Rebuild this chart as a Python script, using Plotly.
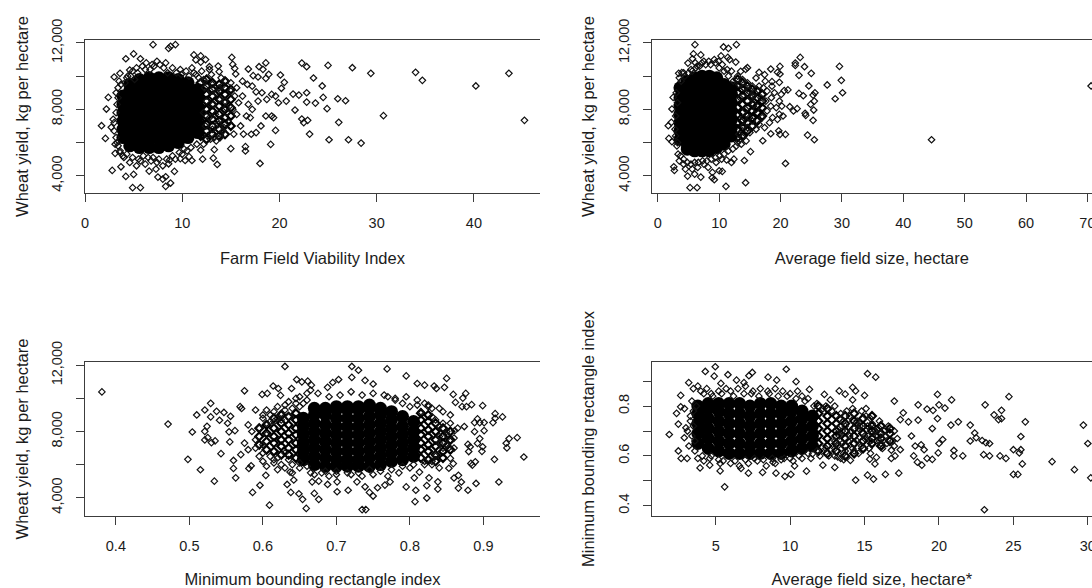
import plotly.graph_objects as go

# ---------- tick labels ----------
yield_ticks = [4000, 6000, 8000, 10000, 12000]
yield_ticktext = ["4,000", "", "8,000", "", "12,000"]
mbr_ticks = [0.4, 0.5, 0.6, 0.7, 0.8, 0.9]
mbr_ticktext = ["0.4", "", "0.6", "", "0.8", ""]

# ---------- panel 1: viability index vs yield (readable points) ----------
p1_x = [1.7,2.1,2.4,2.2,2.8,3.0,2.7,3.6,4.2,5.0,5.7,4.6,7.0,8.6,8.8,9.3,11.2,11.9,11.4,12.4,11.9,15.1,15.2,15.4,13.7,13.8,12.8,16.8,15.5,18.6,17.9,18.3,18.9,17.3,17.8,18.6,20.1,20.5,20.2,22.3,22.8,25.0,27.5,29.4,23.5,24.4,22.8,22.0,21.4,24.5,26.0,26.8,23.7,22.8,24.9,21.6,20.7,30.7,26.1,22.9,22.3,22.5,23.1,25.1,27.1,28.4,34.0,34.7,40.2,43.6,45.2,19.6,19.1,18.0,16.5,16.5,16.3,15.3,15.0,13.6,13.3,13.2,12.1,11.0,10.7,9.8,10.3,11.9,4.9,5.7,8.3,8.8,4.2,5.0,7.5,8.0,8.3,9.2,6.6,7.3,8.6,3.7,3.1,
6.2,6.9,7.4,8.3,9.0,9.8,10.4,11.0,12.0,12.8,5.3,4.3,3.7,3.5,3.2,3.4,13.0,14.0,14.5,15,15.6,16.2,16.7,17.2,17.6,18.2,18.7,19.2,19.6,19.9,18.6,19.2,19.4,18.1,17.6,17.1,17.0,16.6,16.0,15.6,15.2,15.8,16.2,16.8,17.2,17.8,14.8,14.2,13.9,13.5,12.9,12.2,11.5,10.9,15.4,15.0,14.4,13.8,13.1,12.2,11.4,3.2,3.0,2.9,3.1,3.6,4.0,4.6,5.3,5.7,6.2,6.8,7.4,8.0,8.7,9.3,10,10.5,
12.3,12.9,13.5,14.1,12.5,13.2,13.9,14.5,12.2,12.8,13.4,14.0,14.6,12.4,13.1,13.7,14.3,12.6,13.3,13.9,
4.4,4.9,5.4,5.9,6.3,6.7,7.1,7.7,8.1,8.5,9.4,9.9,10.7,11.2,11.7,12.3,4.1,4.7,5.1,3.4,3.3,3.2,3.0,3.3,3.4,3.6,3.9,4.3,4.9,5.5,6,6.5,7,7.6,8.4,9,9.7,10.2]
p1_y = [7015,6250,8720,8020,4320,9950,6920,10170,11050,11340,11050,10370,11900,11680,11800,11900,11280,11220,10980,11000,10850,11130,10710,10470,10610,10270,10570,10430,10130,10800,10570,10410,10110,10030,9950,9870,10070,9630,9270,10790,10570,10650,10510,10170,9890,9410,9000,8860,8920,8720,8640,8520,8380,8440,8040,7960,8500,7620,7220,7340,7420,7200,6510,6170,6170,5970,10230,9750,9410,10170,7340,6730,5890,4740,5750,5490,6510,6510,5630,4680,5570,5060,5000,4920,5150,5030,4920,5550,3280,3280,3360,3560,3960,4080,3920,3800,3940,4260,4280,4400,4720,4540,5350,
10400,10700,10900,10800,10500,10400,10300,10500,10300,10400,10500,9900,9500,9700,9000,8700,10100,9900,9700,9600,9300,9700,9500,9400,9050,9000,8600,8900,8800,8400,7600,7600,7500,7000,6600,6500,7500,7600,7000,7700,8000,8400,8800,8300,8000,8500,7200,6700,6300,6100,6200,5900,5900,5700,8800,9100,8500,9300,9500,9800,10100,6300,6700,7400,5900,5400,5100,4800,4600,4900,4700,4900,4800,4600,4950,5000,5300,5500,
9300,9100,9000,9400,8500,8300,8600,8100,7800,7500,7700,7400,7800,7000,6800,7100,6900,6400,6300,6500,
10000,10300,10200,10600,10800,10400,10600,10700,10500,10200,10200,10100,10000,10200,9900,9700,9600,10000,9800,9300,8300,7800,7200,6000,5800,5500,5200,5300,5100,5000,5200,5100,5100,5000,5000,5200,5400,5600]
p1_mesh_x = [11.9,11.9,11.9,11.9,11.9,11.9,11.9,11.9,12.5,12.5,12.5,12.5,12.5,12.5,12.5,12.5,12.5,13.1,13.1,13.1,13.1,13.1,13.1,13.1,13.1,13.8,13.8,13.8,13.8,13.8,13.8,13.8,13.8,14.4,14.4,14.4,14.4,14.4,14.4,14.4,14.4,15.0,15.0,15.0,15.0,15.0]
p1_mesh_y = [6400,6900,7300,7800,8200,8700,9100,9600,6200,6700,7100,7600,8000,8500,8900,9400,9800,6500,7000,7400,7900,8300,8800,9200,9600,6400,6800,7300,7700,8200,8600,9100,9500,6500,7100,7500,8000,8400,8900,9300,9700,7000,7600,8100,8600,9200]
# overplotted solid core, estimated
p1_core_x = [3.9,3.9,3.9,3.9,3.9,3.9,4.6,4.6,4.6,4.6,4.6,4.6,4.6,4.6,4.6,5.6,5.6,5.6,5.6,5.6,5.6,5.6,5.6,5.6,5.6,6.6,6.6,6.6,6.6,6.6,6.6,6.6,6.6,6.6,6.6,7.6,7.6,7.6,7.6,7.6,7.6,7.6,7.6,7.6,7.6,8.6,8.6,8.6,8.6,8.6,8.6,8.6,8.6,8.6,8.6,9.6,9.6,9.6,9.6,9.6,9.6,9.6,9.6,9.6,10.6,10.6,10.6,10.6,10.6,10.6,10.6,10.6,11.6,11.6,11.6,11.6,11.6,11.6]
p1_core_y = [6300,6800,7300,7800,8300,8800,5800,6200,6700,7200,7700,8200,8700,9100,9500,5700,6100,6600,7000,7500,8000,8500,8900,9400,9800,5700,6200,6700,7200,7700,8200,8700,9100,9500,9900,5700,6200,6700,7200,7700,8200,8700,9100,9500,9900,5800,6300,6800,7300,7800,8300,8800,9200,9600,9900,6000,6500,7000,7500,8000,8500,9000,9400,9800,6300,6800,7300,7800,8300,8800,9200,9600,6600,7100,7600,8100,8600,9200]

# ---------- panel 2: average field size vs yield ----------
p2_x = [6.05,10.7,11.5,12.8,5.8,7.0,5.65,4.9,6.1,11.4,10.3,11.7,12.7,14.6,14.3,13.5,16.5,17.4,16,18.4,19.9,19.5,19.9,23.2,22.4,22.4,23.9,25,23,29.6,29.9,27.6,24.6,30.1,28.9,25.6,25.3,23,23.7,25.5,24.9,25.4,25.3,24,24.1,22.7,21.5,22.1,24.4,25.5,44.6,70.6,20.8,19.7,19.9,18.4,17.1,20.8,14.1,15.1,14.3,11.1,5.25,6.4,4.85,7,8.85,9.2,10.5,10,2.7,2.6,1.7,2.2,1.8,2.3,2.3,2.5,3.4,3.9,21.2,20.6,19.8,18.6,
3,3.2,2.9,2.8,2.9,3.1,3.3,3.5,4.2,4.5,5.6,6,6.5,7.5,8.2,8.9,9.5,10.4,11.2,12,12.4,3.5,4.2,5.4,6.4,7.5,8.3,9.2,9.9,10.5,11.3,12,13,13.8,14.6,15.4,15.8,16.5,17.2,17.8,16.8,17.6,18.5,19,18.4,17.8,17,16.5,16,15,14.4,13.6,12.8,14.9,16,15.6,19.3,19.8,18.7,19.5,20.2,18.2,17.4,20.4,19.8,20.1,18.6,17.5,14.7,14,14,13.2,15.2,13.4,14.3,14,
3.8,4.4,5,5.6,6.2,6.8,7.2,7.8,8.6,9.4,10,10.8,11.5,12.3,13.2,14,14.8,15.5,3.2,3.7,4.2,4.8,5.4,6,6.6,7.3,8,8.7,9.4,10.1,10.8,11.5,12.2,13,13.8,14.6,15.4]
p2_y = [11900,11760,11680,11900,11340,11280,11050,10790,10810,11130,11220,11000,10850,10510,10410,10290,10230,10090,9890,10430,10590,10230,10130,11130,10790,10650,10570,10170,10050,10590,9750,9470,9410,9000,8640,9000,8860,8960,8820,8500,8300,7960,7340,7760,7640,8040,8160,7900,6450,6170,6170,9410,6490,6710,6490,6530,6110,4740,4920,5450,3580,3360,3280,3280,3980,3920,3880,3760,4260,4300,4320,4540,7015,7220,6250,6050,8020,8720,10170,10210,9170,9130,9630,9670,
9000,8400,7600,6800,6400,5800,5300,4900,4700,4400,4400,4100,4500,4700,4500,4200,4800,5000,4950,4800,5000,9900,10200,10400,10600,10900,10900,11000,10900,10700,10400,10300,10000,9800,9600,9400,9000,9400,9300,9100,8700,8500,8700,9000,8200,7900,7500,7100,6800,6600,6100,5900,5800,7500,8000,8300,8100,7700,7500,7400,8200,7200,6900,7600,8500,8900,9400,9700,8900,9300,7000,6500,8700,8700,8000,7500,
9700,10000,10200,10300,10500,10600,10800,10700,10700,10800,10500,10300,10000,9700,9500,9300,9100,8800,6000,5200,5000,4800,4700,4800,4800,4900,4900,5000,5100,5200,5300,5500,5600,6000,6300,6900,7300]
p2_mesh_x = [13,13,13,13,13,13,13,13,13,13.8,13.8,13.8,13.8,13.8,13.8,13.8,13.8,14.6,14.6,14.6,14.6,14.6,14.6,14.6,15.4,15.4,15.4,15.4,15.4,15.4,16.2,16.2,16.2,16.2,16.2,17,17,17,17]
p2_mesh_y = [6300,6800,7200,7700,8100,8600,9000,9400,9800,6400,6900,7300,7800,8300,8800,9200,9600,6700,7200,7600,8100,8500,9000,9400,7000,7500,7900,8300,8800,9200,7300,7800,8200,8700,9100,7600,8100,8500,8900]
p2_core_x = [3.6,3.6,3.6,3.6,3.6,3.6,3.6,4.8,4.8,4.8,4.8,4.8,4.8,4.8,4.8,4.8,4.8,6,6,6,6,6,6,6,6,6,6,6,7.2,7.2,7.2,7.2,7.2,7.2,7.2,7.2,7.2,7.2,7.2,8.4,8.4,8.4,8.4,8.4,8.4,8.4,8.4,8.4,8.4,8.4,9.6,9.6,9.6,9.6,9.6,9.6,9.6,9.6,9.6,9.6,10.8,10.8,10.8,10.8,10.8,10.8,10.8,10.8,12,12,12,12,12,12,12]
p2_core_y = [6200,6700,7200,7700,8200,8700,9300,5600,5900,6400,6900,7400,7900,8400,8900,9400,9700,5500,5700,6200,6700,7200,7700,8200,8700,9200,9700,9900,5500,5700,6200,6700,7200,7700,8200,8700,9200,9700,10000,5500,5800,6300,6800,7300,7800,8300,8800,9300,9800,10000,5700,6000,6500,7000,7500,8000,8500,9000,9500,9900,5900,6400,6900,7400,7900,8400,8900,9500,6400,6900,7400,7900,8400,8900,9300]

# ---------- panel 3: minimum bounding rectangle index vs yield ----------
p3_x = [.381,.471,.498,.504,.510,.515,.521,.524,.521,.521,.525,.529,.529,.530,.535,.534,.537,.541,.543,.547,.552,.556,.555,.554,.562,.560,.560,.563,.575,.569,.571,.586,.581,.584,.596,.609,.604,.599,.606,.614,.621,.630,.633,.638,.642,.637,.624,.639,.646,.653,.661,.666,.649,.654,.659,.667,.670,.676,.676,.688,.695,.703,.688,.721,.730,.721,.739,.750,.769,.795,.810,.820,.833,.836,.850,.847,.859,.876,.872,.862,.871,.877,.884,.899,.916,.926,.913,.916,.892,.888,.895,.901,.901,.888,.874,.861,.946,.935,.931,.932,.955,.915,.921,.899,.892,.898,.879,.880,.882,.895,.883,.889,.885,.890,.879,.870,.866,.866,.860,.853,.859,.855,.853,.838,.838,.823,.807,.808,.823,.826,.806,.813,.795,.735,.740,.739,.745,.750,.756,.716,.701,.701,.728,.766,.773,
.585,.59,.595,.60,.59,.61,.615,.62,.63,.625,.63,.645,.65,.66,.675,.69,.705,.72,.735,.75,.765,.78,.795,.81,.825,.84,.855,.845,.85,.84,.835,.83,.84,.82,.80,.785,.77,.75,.735,.72,.70,.685,.665,.65,.64,.605,.575,.57,.58,.58,.60,.865,.855,.845,.83,.815,.635,.625,.615,.605,.60,.62,.635,
.59,.595,.60,.605,.61,.615,.62,.625,.63,.635,.64,.645,.65,.655,.66,.665,.60,.605,.61,.615,.62,.63,.64,.65,.66,.67,.68,.69,.70,.715,.73,.745,.76,.775,.79,.805,.82,.835,.85,.86,.855,.845,.84,.835,.83,.825,.82,.81,.80,.79,.78,.77,.85,.84,.86,.83]
p3_y = [10390,8450,6320,7970,9000,5690,9300,8310,8010,7490,7630,9700,8880,7330,7430,5000,9220,8680,6660,9150,8500,8920,7370,7980,8050,6250,5770,5200,10460,9500,9390,4320,5770,5930,4750,3550,5350,10240,10300,10750,10600,11930,4800,4320,5070,5550,10180,10600,11140,11000,11040,10800,4240,3900,3350,4960,4260,3900,5000,4800,10960,11140,10670,11930,11700,11270,11090,10870,11780,11360,10900,10800,10750,10600,11210,10670,10240,10300,10020,9760,9500,9500,9620,9560,9080,8880,8540,8800,8760,8540,8540,8540,8050,7990,8300,8050,7630,7570,7290,7010,6460,6320,4950,7080,7280,6800,7220,6790,7080,7570,6070,6170,5970,4860,4450,4950,4580,5350,5190,5780,6060,6380,7020,4960,4520,3980,3760,4450,4730,5200,5200,5550,4650,3280,3280,4660,4320,4100,4600,4450,4360,4960,4960,4760,4960,
8000,7000,6500,8800,9300,9000,6300,9500,9300,6000,5800,9700,10100,9900,10300,10100,10200,10400,10200,10300,10200,10000,10100,9900,9600,9400,9000,8500,7800,7300,6500,6200,5800,6000,5800,5500,5300,5400,5300,5400,5400,5600,5500,5800,6000,7800,7300,6600,6900,8400,7200,8200,7400,7000,8900,9200,8900,8700,8600,8500,6700,6400,6300,
7500,8200,9000,9300,8600,9200,8800,9100,9600,9800,9400,10000,9500,9700,10300,10500,6200,5900,6500,6100,5700,6700,5500,6100,5900,5400,5500,5300,5600,5500,5500,5700,5600,5700,5900,6000,6200,6600,7200,7600,8500,9200,8300,8700,9400,9500,9700,9600,9500,9700,9900,10100,8000,7700,7000,6000]
p3_mesh_x = [.595,.595,.595,.605,.605,.605,.605,.615,.615,.615,.615,.615,.625,.625,.625,.625,.625,.625,.635,.635,.635,.635,.635,.635,.645,.645,.645,.645,.645,.645,.645,.815,.815,.815,.815,.815,.815,.815,.825,.825,.825,.825,.825,.825,.825,.835,.835,.835,.835,.835,.835,.845,.845,.845,.845,.845,.855,.855,.855]
p3_mesh_y = [7200,7700,8200,6900,7400,7900,8400,6800,7300,7700,8200,8800,6600,7100,7500,8000,8500,9000,6600,7000,7500,7900,8400,8900,6400,6900,7300,7800,8200,8700,9100,6400,6900,7300,7800,8200,8700,9100,6300,6800,7200,7700,8100,8600,9000,6200,6600,7100,7500,8000,8500,6400,6800,7300,7700,8200,6900,7500,8000]
p3_core_x = [.655,.655,.655,.655,.655,.655,.67,.67,.67,.67,.67,.67,.67,.67,.685,.685,.685,.685,.685,.685,.685,.685,.70,.70,.70,.70,.70,.70,.70,.70,.70,.715,.715,.715,.715,.715,.715,.715,.715,.715,.73,.73,.73,.73,.73,.73,.73,.73,.73,.745,.745,.745,.745,.745,.745,.745,.745,.745,.76,.76,.76,.76,.76,.76,.76,.76,.775,.775,.775,.775,.775,.775,.775,.79,.79,.79,.79,.79,.79,.805,.805,.805,.805,.805]
p3_core_y = [6300,6800,7300,7800,8300,8800,6000,6500,7000,7500,8000,8500,9000,9400,5900,6400,6900,7400,7900,8400,9000,9400,5900,6300,6800,7300,7800,8300,8800,9300,9500,5900,6300,6800,7300,7800,8300,8800,9300,9500,5900,6300,6800,7300,7800,8300,8800,9300,9500,5900,6400,6900,7400,7900,8400,8900,9400,9600,6000,6500,7000,7500,8000,8500,9000,9400,6200,6700,7200,7700,8200,8700,9200,6300,6800,7300,7800,8300,8900,6500,7000,7500,8000,8600]

# ---------- panel 4: field size vs minimum bounding rectangle index ----------
p4_x = [1.88,2.49,2.68,3.08,2.65,2.65,2.37,2.49,2.89,3.0,3.19,4.3,4.97,4.9,5.82,5.35,6.4,6.9,7.46,7.23,8.52,9.1,9.74,10.4,11.3,12.3,12.7,13.3,13.7,14.2,14.4,14.2,15,15.2,15.75,17,18.6,19.2,19.6,19.9,20,20.4,20.85,17.6,17.95,17.4,18.6,21.3,20.8,22.1,22.4,22.5,22.1,22.9,23.1,24.7,24.2,23.7,24,24.2,25.8,25.5,25,25.5,25.4,24.5,24.1,23.4,23,23.4,23.15,25.6,25,25.3,27.6,29.1,30.2,29.7,30,23.05,21,21,21.6,19.55,19.9,19.55,18.85,18.55,18.3,19,18.8,18.4,18.15,20,20.25,19.95,19.2,17.3,16.4,15.6,15.2,14.4,15.7,15.35,15.8,17.4,17.05,16.8,16.8,5.6,5.3,5.3,7.2,8.15,9.05,9.65,10.05,11.1,13,12.2,3.95,4.6,6.7,8.85,10.3,11.5,14.05,13.6,13.2,
3.5,3.8,4,4.4,4.7,5.2,5.7,6,6.5,7,7.5,8,8.5,9,9.5,10,10.5,10.8,11.2,11.8,12.4,13,13.3,13.6,14,14.4,14.8,15.1,15.4,15.7,16,16.3,16.6,17,13.5,14,14.5,15,15.5,16,16.5,17,13.2,13.7,14.2,14.6,15.3,16.2,13,13.2,14.6,15.2,3.1,3.3,3.2,3.6,3.8,4.2,4.7,5.2,6,6.6,7.2,7.8,8.4,9,9.6,10.2,10.8,11.4,12,12.6,13,13.4,2.9,3.4,16.4,16.9,17.2,
4.2,4.8,5.4,6.2,6.9,7.4,7.9,8.6,9.2,9.8,10.4,11.0,11.6,12.2,12.8,13.4,13.8,14.2,14.7,15.1,15.5,16,13.3,13.7,14.1,14.5,15,15.4,15.9,13.5,13.9,14.3,14.8,15.4,16.1,3.3,3.5,3.4,3.6,3.5,3.7,4.1,4.6,5.5,6.3,7,7.6,8.2,8.8,9.4,10,10.6,11.2,11.8,12.4,13,13.6]
p4_y = [.686,.62,.59,.59,.843,.797,.771,.728,.673,.713,.894,.939,.958,.92,.926,.891,.904,.894,.935,.922,.916,.904,.948,.898,.867,.847,.825,.861,.848,.875,.861,.825,.843,.93,.916,.82,.805,.788,.783,.847,.805,.792,.825,.773,.737,.746,.744,.737,.724,.724,.692,.673,.66,.662,.805,.838,.783,.765,.746,.75,.737,.678,.625,.625,.612,.59,.6,.6,.605,.65,.653,.568,.526,.526,.577,.545,.512,.724,.65,.384,.622,.6,.6,.71,.75,.586,.563,.575,.6,.625,.645,.64,.68,.65,.666,.612,.59,.531,.526,.507,.523,.503,.568,.587,.594,.625,.6,.59,.623,.476,.54,.57,.531,.534,.531,.518,.526,.539,.554,.563,.552,.563,.55,.575,.56,.608,.582,.585,.596,
.87,.88,.86,.87,.85,.86,.87,.86,.87,.88,.86,.87,.86,.87,.86,.85,.86,.84,.83,.81,.80,.80,.75,.74,.76,.73,.78,.79,.75,.70,.74,.70,.72,.70,.70,.68,.66,.68,.69,.66,.65,.64,.64,.62,.63,.61,.63,.63,.66,.71,.71,.72,.70,.76,.64,.62,.59,.58,.60,.585,.57,.56,.57,.58,.56,.57,.59,.58,.59,.59,.60,.60,.60,.59,.79,.82,.68,.66,.67,
.85,.84,.85,.84,.85,.85,.84,.85,.84,.84,.83,.82,.80,.79,.78,.77,.78,.79,.72,.76,.73,.71,.68,.72,.70,.74,.67,.66,.68,.65,.66,.62,.64,.61,.65,.74,.72,.68,.66,.78,.80,.60,.59,.58,.58,.585,.59,.585,.59,.585,.59,.60,.61,.62,.63,.63,.61]
p4_mesh_x = [11.9,11.9,11.9,11.9,11.9,11.9,11.9,12.5,12.5,12.5,12.5,12.5,12.5,12.5,13.1,13.1,13.1,13.1,13.1,13.1,13.7,13.7,13.7,13.7,13.7,13.7,14.3,14.3,14.3,14.3,14.3,14.3,14.9,14.9,14.9,14.9,14.9,15.5,15.5,15.5,15.5,15.5,16.1,16.1,16.1,16.1,16.7,16.7,16.7]
p4_mesh_y = [.62,.65,.68,.71,.74,.77,.80,.61,.64,.67,.70,.73,.76,.79,.62,.65,.68,.70,.73,.76,.60,.64,.67,.70,.73,.76,.61,.65,.68,.71,.74,.77,.63,.66,.69,.72,.75,.65,.67,.70,.72,.76,.64,.67,.69,.72,.66,.69,.71]
p4_core_x = [3.8,3.8,3.8,3.8,3.8,4.5,4.5,4.5,4.5,4.5,4.5,5.2,5.2,5.2,5.2,5.2,5.2,5.9,5.9,5.9,5.9,5.9,5.9,6.6,6.6,6.6,6.6,6.6,6.6,7.3,7.3,7.3,7.3,7.3,7.3,8.0,8.0,8.0,8.0,8.0,8.0,8.7,8.7,8.7,8.7,8.7,8.7,9.4,9.4,9.4,9.4,9.4,9.4,10.1,10.1,10.1,10.1,10.1,10.1,10.8,10.8,10.8,10.8,10.8,11.5,11.5,11.5,11.5]
p4_core_y = [.65,.69,.73,.77,.80,.63,.67,.71,.75,.79,.81,.62,.66,.70,.74,.78,.81,.61,.65,.69,.73,.77,.81,.61,.65,.69,.73,.77,.81,.61,.64,.68,.72,.76,.80,.61,.65,.69,.73,.77,.81,.61,.65,.69,.73,.77,.81,.61,.65,.69,.73,.77,.80,.62,.66,.70,.74,.78,.80,.63,.67,.71,.75,.78,.64,.68,.72,.76]

# ---------- axis titles ----------
x_titles = ["Farm Field Viability Index", "Average field size, hectare",
            "Minimum bounding rectangle index", "Average field size, hectare*"]
y_titles = ["Wheat yield, kg per hectare", "Wheat yield, kg per hectare",
            "Wheat yield, kg per hectare", "Minimum bounding rectangle index"]

W, H = 1092, 588
INK = "#111111"
AXIS = "#3c3c3c"
TITLE_SIZE = 16.5
TICK_SIZE = 14.5
ticklabel_font = dict(family="Liberation Sans", size=TICK_SIZE, color="#1c1c1c")
title_font = dict(family="Liberation Sans", size=TITLE_SIZE, color="#1c1c1c")

panels = [
    dict(pts=(p1_x, p1_y), mesh=(p1_mesh_x, p1_mesh_y), core=(p1_core_x, p1_core_y), dx=(85, 540), dy=(40, 193),
         xr=[0.0, 46.8], yr=[2960, 12180], xt=[0, 10, 20, 30, 40],
         yt=yield_ticks, ytt=yield_ticktext),
    dict(pts=(p2_x, p2_y), mesh=(p2_mesh_x, p2_mesh_y), core=(p2_core_x, p2_core_y), dx=(651.7, 1092), dy=(40, 193),
         xr=[-1.0, 70.75], yr=[2960, 12180], xt=[0, 10, 20, 30, 40, 50, 60, 70],
         yt=yield_ticks, ytt=yield_ticktext),
    dict(pts=(p3_x, p3_y), mesh=(p3_mesh_x, p3_mesh_y), core=(p3_core_x, p3_core_y), dx=(85, 540), dy=(362, 516),
         xr=[0.358, 0.977], yr=[2894, 12200], xt=[0.4, 0.5, 0.6, 0.7, 0.8, 0.9],
         yt=yield_ticks, ytt=yield_ticktext),
    dict(pts=(p4_x, p4_y), mesh=(p4_mesh_x, p4_mesh_y), core=(p4_core_x, p4_core_y), dx=(651.7, 1092), dy=(362, 516),
         xr=[0.70, 30.28], yr=[0.359, 0.977], xt=[5, 10, 15, 20, 25, 30],
         yt=mbr_ticks, ytt=mbr_ticktext),
]

fig = go.Figure()
layout = dict(width=W, height=H, autosize=False, showlegend=False,
              margin=dict(l=0, r=0, t=0, b=0), paper_bgcolor="white", plot_bgcolor="white",
              font=dict(family="Liberation Sans", color="#222"))

for i, p in enumerate(panels):
    n = "" if i == 0 else str(i + 1)
    xa, ya = "x" + n, "y" + n
    fig.add_trace(go.Scatter(x=p["core"][0], y=p["core"][1], xaxis=xa, yaxis=ya, mode="markers",
                             marker=dict(symbol="circle", size=13, color="black", line=dict(width=0)),
                             hoverinfo="skip"))
    fig.add_trace(go.Scatter(x=p["mesh"][0], y=p["mesh"][1], xaxis=xa, yaxis=ya, mode="markers",
                             marker=dict(symbol="diamond-open", size=6, color="black", line=dict(width=2.2, color="black"))))
    fig.add_trace(go.Scatter(x=p["pts"][0], y=p["pts"][1], xaxis=xa, yaxis=ya, mode="markers",
                             marker=dict(symbol="diamond-open", size=5, color=INK, line=dict(width=1.2, color=INK))))
    layout["xaxis" + n] = dict(
        domain=[p["dx"][0] / W, p["dx"][1] / W], range=p["xr"], anchor=ya, automargin=False,
        tickmode="array", tickvals=p["xt"], showgrid=False, zeroline=False,
        showline=True, mirror=True, linecolor=AXIS, linewidth=1.3,
        ticks="outside", ticklen=8, tickwidth=1.2, tickcolor=AXIS, tickfont=ticklabel_font, ticklabelstandoff=8,
        ticklabeloverflow="allow",
        title=dict(text=x_titles[i], standoff=22, font=title_font))
    layout["yaxis" + n] = dict(
        domain=[(H - p["dy"][1]) / H, (H - p["dy"][0]) / H], range=p["yr"], anchor=xa, automargin=False,
        tickmode="array", tickvals=p["yt"], ticktext=p["ytt"], tickangle=-90,
        showgrid=False, zeroline=False, showline=True, mirror=False, linecolor=AXIS, linewidth=1.3,
        ticks="outside", ticklen=8, tickwidth=1.2, tickcolor=AXIS, tickfont=ticklabel_font, ticklabelstandoff=8,
        title=dict(text=y_titles[i], standoff=16, font=title_font))
fig.update_layout(**layout)

fig.write_html("out.html", config={"displayModeBar": False},
               post_script="document.body.style.margin='0';document.body.style.overflow='hidden';")
